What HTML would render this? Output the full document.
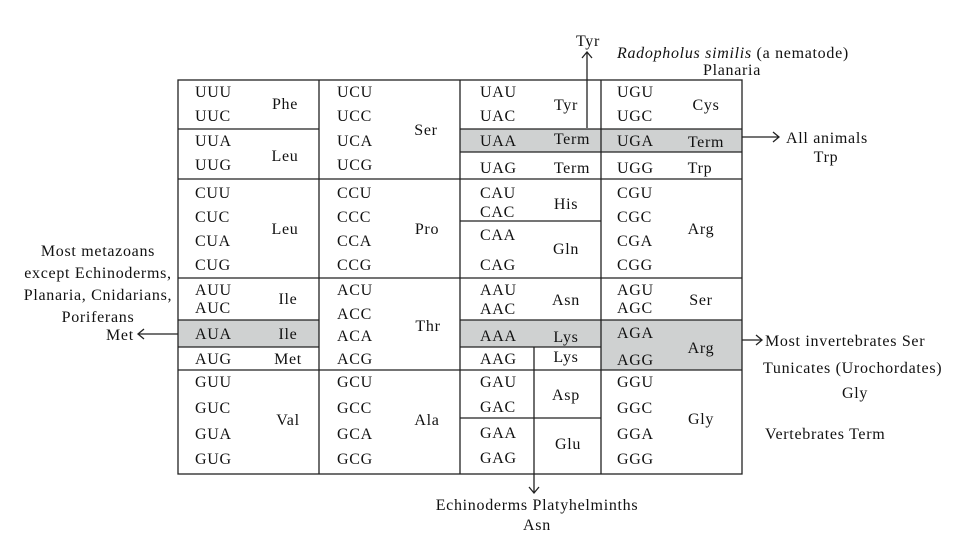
<!DOCTYPE html>
<html><head><style>body{margin:0;background:#fff}svg{display:block}text{font-family:"Liberation Serif",serif;font-size:16px;fill:#111}.a{letter-spacing:0.7px}</style></head><body>
<svg width="967" height="540" viewBox="0 0 967 540">
<g fill="#cfd1d1">
<rect x="178" y="320" width="141" height="27"/>
<rect x="460" y="129" width="141" height="23"/>
<rect x="601" y="129" width="141" height="23"/>
<rect x="460" y="320" width="141" height="27"/>
<rect x="601" y="320" width="141" height="50"/>
</g>
<g stroke="#222" stroke-width="1.3" fill="none">
<rect x="178" y="80" width="564" height="394"/>
<line x1="319" y1="80" x2="319" y2="474"/><line x1="460" y1="80" x2="460" y2="474"/><line x1="601" y1="80" x2="601" y2="474"/>
<line x1="178" y1="179" x2="742" y2="179"/><line x1="178" y1="278" x2="742" y2="278"/><line x1="178" y1="370" x2="742" y2="370"/>
<line x1="178" y1="129" x2="319" y2="129"/><line x1="178" y1="320" x2="319" y2="320"/><line x1="178" y1="347" x2="319" y2="347"/>
<line x1="460" y1="129" x2="742" y2="129"/><line x1="460" y1="152" x2="742" y2="152"/>
<line x1="460" y1="221" x2="601" y2="221"/>
<line x1="460" y1="320" x2="742" y2="320"/><line x1="460" y1="347" x2="601" y2="347"/>
<line x1="460" y1="418" x2="601" y2="418"/>
<line x1="587" y1="128" x2="587" y2="52"/><path d="M582 58 L587 52 L592 58"/>
<line x1="534" y1="347" x2="534" y2="493"/><path d="M529 487 L534 493 L539 487"/>
<line x1="742" y1="137" x2="779" y2="137"/><path d="M773 132 L779 137 L773 142"/>
<line x1="742" y1="340" x2="762" y2="340"/><path d="M756 335 L762 340 L756 345"/>
<line x1="178" y1="334" x2="138" y2="334"/><path d="M144 329 L138 334 L144 339"/>
</g>
<g class="a">
<text x="195" y="97">UUU</text><text x="195" y="121">UUC</text><text x="195" y="146">UUA</text><text x="195" y="170">UUG</text>
<text x="195" y="222">CUC</text><text x="195" y="198">CUU</text><text x="195" y="246">CUA</text><text x="195" y="270">CUG</text>
<text x="195" y="295">AUU</text><text x="195" y="313">AUC</text><text x="195" y="339">AUA</text><text x="195" y="364">AUG</text>
<text x="195" y="387">GUU</text><text x="195" y="413">GUC</text><text x="195" y="439">GUA</text><text x="195" y="464">GUG</text>
<text x="337" y="97">UCU</text><text x="337" y="121">UCC</text><text x="337" y="146">UCA</text><text x="337" y="170">UCG</text>
<text x="337" y="198">CCU</text><text x="337" y="222">CCC</text><text x="337" y="246">CCA</text><text x="337" y="270">CCG</text>
<text x="337" y="295">ACU</text><text x="337" y="319">ACC</text><text x="337" y="341">ACA</text><text x="337" y="364">ACG</text>
<text x="337" y="387">GCU</text><text x="337" y="413">GCC</text><text x="337" y="439">GCA</text><text x="337" y="464">GCG</text>
<text x="480" y="97">UAU</text><text x="480" y="121">UAC</text><text x="480" y="146">UAA</text><text x="480" y="173">UAG</text>
<text x="480" y="198">CAU</text><text x="480" y="217">CAC</text><text x="480" y="240">CAA</text><text x="480" y="270">CAG</text>
<text x="480" y="295">AAU</text><text x="480" y="314">AAC</text><text x="480" y="341">AAA</text><text x="480" y="364">AAG</text>
<text x="480" y="387">GAU</text><text x="480" y="412">GAC</text><text x="480" y="438">GAA</text><text x="480" y="463">GAG</text>
<text x="617" y="97">UGU</text><text x="617" y="121">UGC</text><text x="617" y="146">UGA</text><text x="617" y="173">UGG</text>
<text x="617" y="198">CGU</text><text x="617" y="222">CGC</text><text x="617" y="246">CGA</text><text x="617" y="270">CGG</text>
<text x="617" y="295">AGU</text><text x="617" y="313">AGC</text><text x="617" y="338">AGA</text><text x="617" y="365">AGG</text>
<text x="617" y="387">GGU</text><text x="617" y="413">GGC</text><text x="617" y="439">GGA</text><text x="617" y="464">GGG</text>
</g>
<g text-anchor="middle" class="a">
<text x="285" y="109">Phe</text><text x="285" y="161">Leu</text><text x="285" y="234">Leu</text><text x="288" y="304">Ile</text><text x="288" y="339">Ile</text><text x="288" y="364">Met</text><text x="288" y="425">Val</text>
<text x="426" y="135">Ser</text><text x="427" y="234">Pro</text><text x="428" y="331">Thr</text><text x="427" y="425">Ala</text>
<text x="566" y="110">Tyr</text><text x="572" y="144">Term</text><text x="572" y="173">Term</text><text x="566" y="209">His</text><text x="566" y="254">Gln</text>
<text x="566" y="305">Asn</text><text x="566" y="342">Lys</text><text x="566" y="362">Lys</text><text x="566" y="400">Asp</text><text x="568" y="449">Glu</text>
<text x="706" y="110">Cys</text><text x="706" y="147">Term</text><text x="700" y="173">Trp</text><text x="701" y="234">Arg</text><text x="701" y="305">Ser</text><text x="701" y="353">Arg</text><text x="701" y="424">Gly</text>
<text x="588" y="46">Tyr</text>
<text x="732" y="75">Planaria</text>
<text x="826" y="162">Trp</text>
<text x="855" y="398">Gly</text>
<text x="537" y="510">Echinoderms Platyhelminths</text>
<text x="537" y="530">Asn</text>
<text x="98" y="256">Most metazoans</text><text x="98" y="278">except Echinoderms,</text><text x="98" y="300">Planaria, Cnidarians,</text><text x="98" y="322">Poriferans</text>
</g>
<g class="a">
<text x="617" y="58"><tspan font-style="italic">Radopholus similis</tspan> (a nematode)</text>
<text x="786" y="143">All animals</text>
<text x="106" y="340">Met</text>
<text x="765" y="346">Most invertebrates Ser</text>
<text x="763" y="373">Tunicates (Urochordates)</text>
<text x="765" y="439">Vertebrates Term</text>
</g>
</svg>
</body></html>
